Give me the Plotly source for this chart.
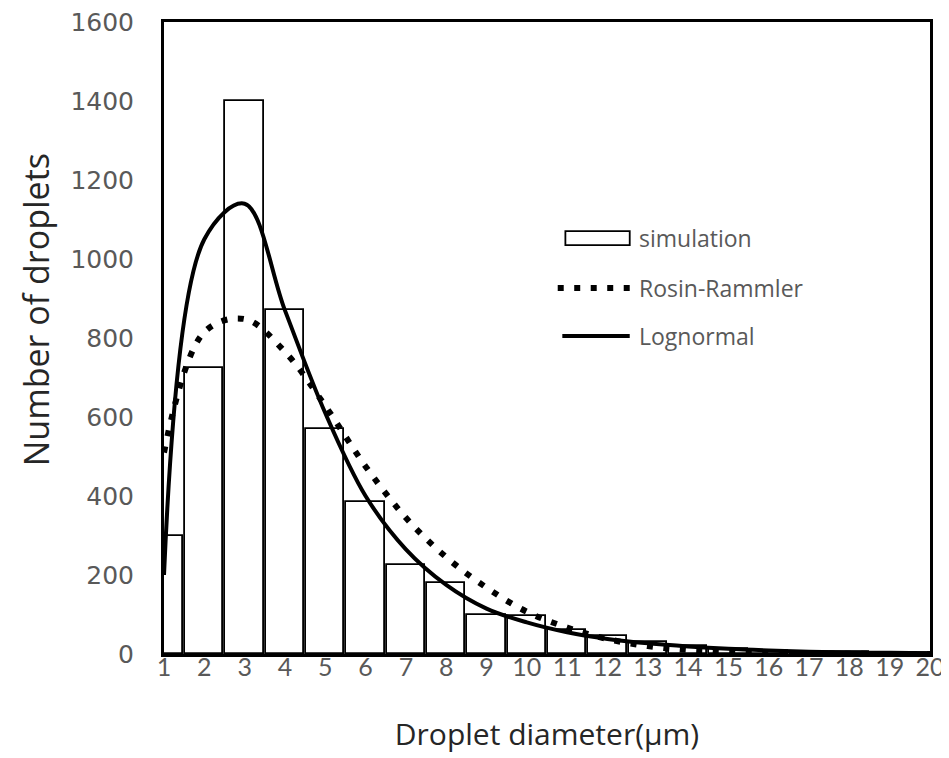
import plotly.graph_objects as go

# ---- data ----
diameters = list(range(1, 21))
simulation = [300, 725, 1400, 870, 570, 385, 225, 180, 100, 95, 60, 45, 30, 20, 12, 8, 5, 4, 3, 2]
rosin_rammler = [510, 815, 848, 765, 628, 475, 345, 245, 168, 107, 67, 38, 20, 10, 5, 2, 1, 0.5, 0.2, 0.1]
lognormal = [200, 1050, 1140, 870, 610, 400, 265, 175, 115, 80, 55, 38, 27, 19, 13, 9, 6, 4, 3, 2]
x_ticks = [str(d) for d in diameters]
y_ticks = list(range(0, 1601, 200))
legend_names = ["simulation", "Rosin-Rammler", "Lognormal"]
x_title = "Droplet diameter(μm)"
y_title = "Number of droplets"

DOT_DASH = "6px,10.5px"
TICK_COLOR = "#595959"
TITLE_COLOR = "#262626"

fig = go.Figure()
fig.add_trace(go.Bar(
    x=diameters, y=simulation, width=0.95, name=legend_names[0],
    marker=dict(color="white", line=dict(color="black", width=1.8)),
    showlegend=False,
))
fig.add_trace(go.Scatter(
    x=diameters, y=rosin_rammler, mode="lines", name=legend_names[1],
    line=dict(color="black", width=6, dash=DOT_DASH, shape="spline", smoothing=1.0),
    showlegend=False,
))
fig.add_trace(go.Scatter(
    x=diameters, y=lognormal, mode="lines", name=legend_names[2],
    line=dict(color="black", width=4, shape="spline", smoothing=1.0),
    showlegend=False,
))

# ---- manual legend (symbols + labels) ----
row_y = [0.658, 0.579, 0.503]
sx0, sx1, tx = 0.520, 0.608, 0.617
shapes = [
    dict(type="rect", xref="paper", yref="paper", x0=sx0 + 0.004, x1=sx1, y0=row_y[0] - 0.011, y1=row_y[0] + 0.011,
         line=dict(color="black", width=1.8), fillcolor="white"),
    dict(type="line", xref="paper", yref="paper", x0=sx0 - 0.006, x1=sx1, y0=row_y[1], y1=row_y[1],
         line=dict(color="black", width=6, dash=DOT_DASH)),
    dict(type="line", xref="paper", yref="paper", x0=sx0, x1=sx1, y0=row_y[2], y1=row_y[2],
         line=dict(color="black", width=4)),
]
annotations = [
    dict(xref="paper", yref="paper", x=tx, y=yy, text=name, showarrow=False,
         xanchor="left", yanchor="middle", font=dict(family="Open Sans", size=23, color=TICK_COLOR))
    for name, yy in zip(legend_names, row_y)
]
# y-axis title (placed slightly above centre, as in the reference)
annotations.append(dict(
    xref="paper", yref="paper", x=-0.167, y=0.544, text=y_title, textangle=-90, showarrow=False,
    xanchor="center", yanchor="middle", borderpad=0,
    font=dict(family="Open Sans", size=34, color=TITLE_COLOR),
))

fig.update_layout(
    width=949, height=758,
    margin=dict(l=156, r=27, t=14, b=112),
    paper_bgcolor="white", plot_bgcolor="white",
    bargap=0,
    shapes=shapes, annotations=annotations,
    showlegend=False,
)
fig.update_xaxes(
    range=[1, 20], tickmode="array", tickvals=diameters, ticktext=x_ticks,
    showgrid=False, zeroline=False, showline=True, mirror=True, linecolor="black", linewidth=3,
    ticks="", ticklabelstandoff=-11, automargin=False, ticklabeloverflow="allow",
    tickfont=dict(family="Lato", size=25, color=TICK_COLOR),
    title=dict(text=x_title, standoff=44,
               font=dict(family="Open Sans", size=30, color=TITLE_COLOR)),
)
fig.update_yaxes(
    range=[0, 1600], tickmode="array", tickvals=y_ticks,
    showgrid=False, zeroline=False, showline=True, mirror=True, linecolor="black", linewidth=3,
    ticks="", ticklabelstandoff=22, automargin=False, ticklabeloverflow="allow",
    tickfont=dict(family="DejaVu Sans", size=25, color=TICK_COLOR),
)

fig.write_html("out.html")
